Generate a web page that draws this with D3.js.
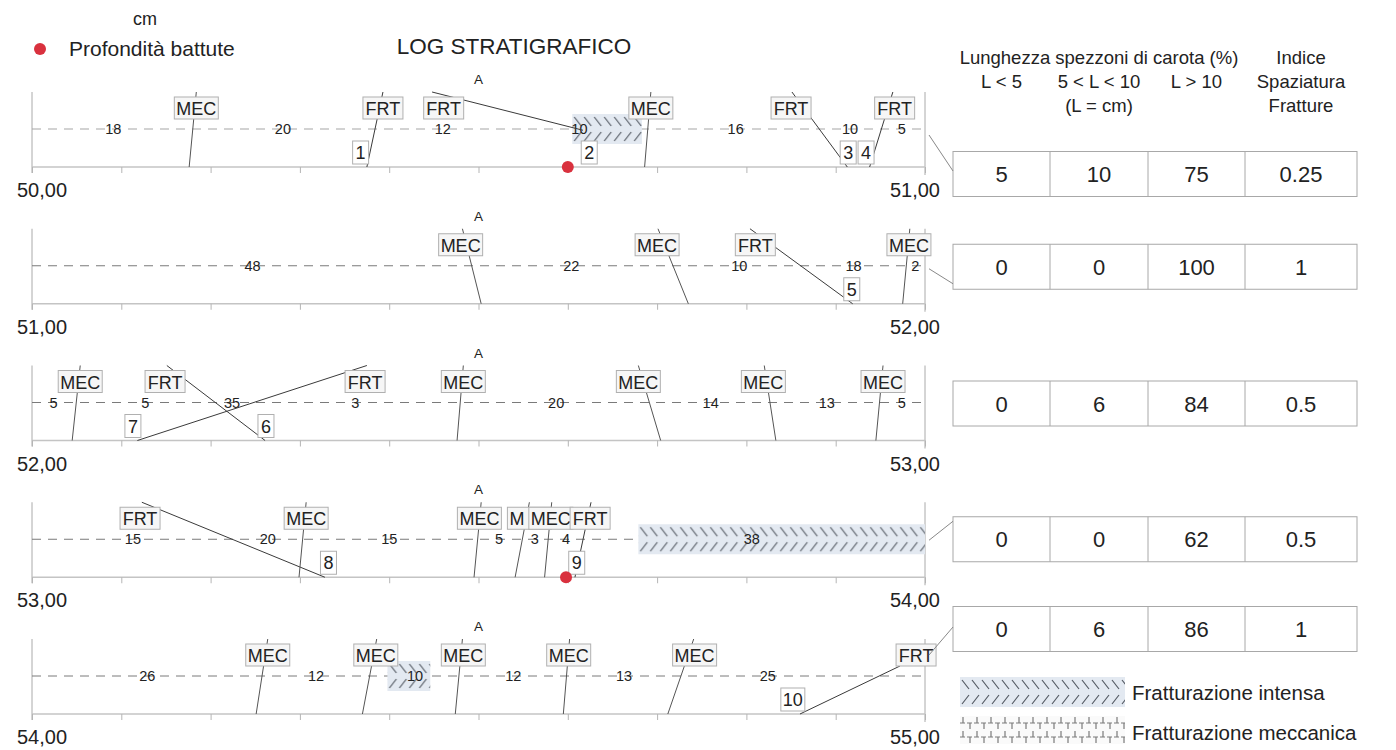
<!DOCTYPE html>
<html><head><meta charset="utf-8">
<script src="https://cdn.jsdelivr.net/npm/d3@7"></script>
<style>
body{margin:0;background:#fff}
svg{display:block}
text{font-family:"Liberation Sans",Arial,Helvetica,sans-serif;fill:#222}
</style></head><body>
<svg id="c" width="1396" height="750"></svg>
<script>
// ---------------- DATA ----------------
const rowStarts = [50, 51, 52, 53, 54];
const depthLabels = ["50,00", "51,00", "52,00", "53,00", "54,00", "55,00"];
const markerA = 50; // cm position of "A" marker within each metre

// segment lengths written on the centre line: [row, cm position, value]
const segments = [
  [0, 9.1, 18], [0, 28.1, 20], [0, 46.0, 12], [0, 61.3, 10], [0, 78.8, 16], [0, 91.6, 10], [0, 97.4, 5],
  [1, 24.7, 48], [1, 60.4, 22], [1, 79.2, 10], [1, 92.0, 18], [1, 98.9, 2],
  [2, 2.4, 5], [2, 12.7, 5], [2, 22.4, 35], [2, 36.2, 3], [2, 58.7, 20], [2, 76.0, 14], [2, 89.0, 13], [2, 97.4, 5],
  [3, 11.3, 15], [3, 26.4, 20], [3, 40.0, 15], [3, 52.3, 5], [3, 56.3, 3], [3, 59.8, 4], [3, 80.6, 38],
  [4, 12.9, 26], [4, 31.8, 12], [4, 42.9, 10], [4, 53.9, 12], [4, 66.3, 13], [4, 82.4, 25]
];

// discontinuities: row, type, label cm, line start cm (top), line end cm (bottom), optional fractions, fracture number
const discontinuities = [
  {row:0, type:"MEC", label:18.4, top:18.4, bot:17.6},
  {row:0, type:"FRT", label:39.3, top:39.3, bot:37.5, num:1, numAt:36.8},
  {row:0, type:"FRT", label:46.1, top:44.8, bot:61.7, f2:0.51, num:2, numAt:62.4},
  {row:0, type:"MEC", label:69.3, top:69.3, bot:68.6},
  {row:0, type:"FRT", label:85.0, top:85.1, bot:91.3, num:3, numAt:91.4},
  {row:0, type:"FRT", label:96.6, top:96.4, bot:93.8, num:4, numAt:93.4},
  {row:1, type:"MEC", label:48.0, top:48.2, bot:50.3},
  {row:1, type:"MEC", label:70.0, top:70.1, bot:73.5},
  {row:1, type:"FRT", label:81.0, top:80.4, bot:91.9, num:5, numAt:91.8},
  {row:1, type:"MEC", label:98.2, top:98.3, bot:97.5},
  {row:2, type:"MEC", label:5.4, top:5.4, bot:4.5},
  {row:2, type:"FRT", label:14.9, top:15.1, bot:26.1, num:6, numAt:26.2},
  {row:2, type:"FRT", label:37.3, top:37.5, bot:11.8, num:7, numAt:11.3},
  {row:2, type:"MEC", label:48.3, top:48.3, bot:47.6},
  {row:2, type:"MEC", label:67.9, top:67.9, bot:70.4},
  {row:2, type:"MEC", label:81.9, top:82.0, bot:83.3},
  {row:2, type:"MEC", label:95.3, top:95.3, bot:94.5},
  {row:3, type:"FRT", label:12.1, top:12.3, bot:32.8, num:8, numAt:33.2},
  {row:3, type:"MEC", label:30.7, top:30.7, bot:29.9},
  {row:3, type:"MEC", label:50.1, top:50.3, bot:49.5},
  {row:3, type:"MEC", label:55.7, top:55.7, bot:54.1},
  {row:3, type:"MEC", label:58.1, top:58.2, bot:57.4},
  {row:3, type:"FRT", label:62.5, top:62.6, bot:60.8, num:9, numAt:61.0},
  {row:4, type:"MEC", label:26.4, top:26.4, bot:25.1},
  {row:4, type:"MEC", label:38.5, top:38.6, bot:37.0},
  {row:4, type:"MEC", label:48.3, top:48.2, bot:47.4},
  {row:4, type:"MEC", label:60.1, top:60.2, bot:59.5},
  {row:4, type:"MEC", label:74.2, top:74.1, bot:71.2},
  {row:4, type:"FRT", label:99.0, top:97.2, f1:0.36, bot:86.0, num:10, numAt:85.2}
];

// intense fracturing zones: [row, from cm, to cm]
const intenseZones = [[0, 60.5, 68.3], [3, 67.9, 100], [4, 39.8, 44.6]];
// "Profondità battute" points: [row, cm]
const blows = [[0, 60.0], [3, 59.8]];

// table of core piece lengths
const colHeaders = ["L < 5", "5 < L < 10", "L > 10"];
const lessThan5 = [5, 0, 0, 0, 0];
const between5and10 = [10, 0, 6, 0, 6];
const greaterThan10 = [75, 100, 84, 62, 86];
const spacingIndex = ["0.25", "1", "0.5", "0.5", "1"];

// ---------------- LAYOUT ----------------
const svg = d3.select("#c");
const x = d3.scaleLinear().domain([0, 100]).range([32, 925]);
const rowY = d3.scaleLinear().domain([0, 4]).range([129, 676]); // centre (dashed) line
const TOP = -37, BASE = 38;

const defs = svg.append("defs");
// intense fracturing pattern (diamond-plate look)
const pI = defs.append("pattern").attr("id","intense").attr("patternUnits","userSpaceOnUse")
  .attr("width",10).attr("height",30);
pI.append("rect").attr("width",10).attr("height",30).attr("fill","#e3e9f1");
pI.append("path").attr("d","M2,3 L9,12 M2,27 L9,18").attr("stroke","#555b64").attr("stroke-width",1.2).attr("fill","none");
// mechanical fracturing pattern
const pM = defs.append("pattern").attr("id","mech").attr("patternUnits","userSpaceOnUse")
  .attr("width",14).attr("height",14);
pM.append("rect").attr("width",14).attr("height",14).attr("fill","#fafafa");
pM.append("path").attr("d","M0,7 H5 M7,7 H12 M3,1 V7 M10,7 V13").attr("stroke","#7a7a7a").attr("stroke-width",1.2).attr("fill","none");

// header texts
svg.append("text").attr("x",145).attr("y",25).attr("text-anchor","middle").style("font-size","18px").text("cm");
svg.append("circle").attr("cx",40).attr("cy",49).attr("r",6).attr("fill","#d9313e");
svg.append("text").attr("x",69).attr("y",56).style("font-size","21px").text("Profondità battute");
svg.append("text").attr("x",514).attr("y",54).attr("text-anchor","middle").style("font-size","22.5px").text("LOG STRATIGRAFICO");

// table headers
const colX = [953, 1050, 1148, 1245, 1357];
const colC = d3.range(4).map(i => (colX[i] + colX[i+1]) / 2);
const hs = "18.5px";
svg.append("text").attr("x", colC[1]).attr("y", 64).attr("text-anchor","middle").style("font-size",hs).text("Lunghezza spezzoni di carota (%)");
svg.append("text").attr("x", colC[3]).attr("y", 64).attr("text-anchor","middle").style("font-size",hs).text("Indice");
colHeaders.forEach((h, i) => svg.append("text").attr("x", colC[i]).attr("y", 88).attr("text-anchor","middle").style("font-size",hs).text(h));
svg.append("text").attr("x", colC[3]).attr("y", 88).attr("text-anchor","middle").style("font-size",hs).text("Spaziatura");
svg.append("text").attr("x", colC[1]).attr("y", 112).attr("text-anchor","middle").style("font-size",hs).text("(L = cm)");
svg.append("text").attr("x", colC[3]).attr("y", 112).attr("text-anchor","middle").style("font-size",hs).text("Fratture");

const tableOffset = [45, 1, 1, 0, -47];
const connStart = [6, 3, null, 1, -21];
const connEnd = [-3, 17, 0, -18, -2];

let clipId = 0;
rowStarts.forEach((start, r) => {
  const cy = rowY(r);
  const g = svg.append("g");
  const yTop = cy + TOP, yBase = cy + BASE;
  // frame verticals
  g.append("line").attr("x1",x(0)).attr("x2",x(0)).attr("y1",yTop).attr("y2",yBase+6).attr("stroke","#aaa");
  g.append("line").attr("x1",x(100)).attr("x2",x(100)).attr("y1",yTop).attr("y2",yBase+8).attr("stroke","#aaa");
  // baseline + ticks
  g.append("line").attr("x1",x(0)).attr("x2",x(100)).attr("y1",yBase).attr("y2",yBase).attr("stroke","#c4c4c4").attr("stroke-width",1.6);
  const axis = d3.axisBottom(x).tickValues(d3.range(0, 101, 10)).tickSize(6).tickFormat("");
  const ag = g.append("g").attr("transform",`translate(0,${yBase})`).call(axis);
  ag.select(".domain").remove();
  ag.selectAll(".tick line").attr("stroke","#b5b5b5");
  // dashed centre line
  g.append("line").attr("x1",x(0)).attr("x2",x(100)).attr("y1",cy).attr("y2",cy)
    .attr("stroke", r === 0 ? "#a5a5a5" : "#7a7a7a").attr("stroke-dasharray","9,7");
  // intense zones
  intenseZones.filter(z => z[0] === r).forEach(z => {
    const zg = g.append("g").attr("transform",`translate(${x(z[1])},${cy-15})`);
    zg.append("rect").attr("width", x(z[2]) - x(z[1])).attr("height",30).attr("fill","url(#intense)");
  });
  // segment values
  segments.filter(s => s[0] === r).forEach(s => {
    g.append("text").attr("x", x(s[1])).attr("y", cy + 5).attr("text-anchor","middle")
      .style("font-size","14.5px").text(s[2]);
  });
  // discontinuity lines
  const ds = discontinuities.filter(d => d.row === r);
  ds.forEach(d => {
    const f1 = d.f1 || 0, f2 = d.f2 === undefined ? 1 : d.f2;
    g.append("line").attr("x1", x(d.top)).attr("y1", yTop + f1*(yBase-yTop))
      .attr("x2", x(d.bot)).attr("y2", yTop + f2*(yBase-yTop))
      .attr("stroke", d.type === "FRT" ? "#3a3a3a" : "#555").attr("stroke-width",1);
  });
  // labels (later boxes cover earlier ones; a largely covered label keeps only its first letter)
  const bw = d => d.type === "MEC" ? 44 : 40;
  ds.forEach((d, i) => {
    const w = bw(d);
    g.append("rect").attr("x", x(d.label) - w/2).attr("y", cy - 32).attr("width", w).attr("height", 22)
      .attr("fill","#f6f6f6").attr("stroke","#b0b0b0").attr("stroke-width",1);
    const next = ds[i+1];
    const t = g.append("text").attr("x", x(d.label)).attr("y", cy - 14).attr("text-anchor","middle")
      .style("font-size","18px").text(d.type);
    if (next && x(next.label) - bw(next)/2 < x(d.label) + w/2 - 10) {
      const id = "clip" + (clipId++);
      defs.append("clipPath").attr("id", id).append("rect")
        .attr("x", x(d.label) - w/2).attr("y", cy - 34).attr("width", x(next.label) - bw(next)/2 - (x(d.label) - w/2)).attr("height", 26);
      t.attr("clip-path", `url(#${id})`).text("M");
      t.attr("text-anchor","start").attr("x", x(d.label) - w/2 + 2);
    }
  });
  // fracture numbers
  ds.filter(d => d.num !== undefined).forEach(d => {
    const w = d.num >= 10 ? 24 : 16;
    g.append("rect").attr("x", x(d.numAt) - w/2).attr("y", cy + 12).attr("width", w).attr("height", 23)
      .attr("fill","#fff").attr("stroke","#b0b0b0");
    g.append("text").attr("x", x(d.numAt)).attr("y", cy + 30).attr("text-anchor","middle")
      .style("font-size","18px").text(d.num);
  });
  // blows
  blows.filter(b => b[0] === r).forEach(b => {
    g.append("circle").attr("cx", x(b[1])).attr("cy", yBase).attr("r", 6).attr("fill","#d9313e");
  });
  // A marker
  g.append("text").attr("x", x(markerA)).attr("y", cy - 45).attr("text-anchor","middle").style("font-size","13.5px").text("A");
  // depth labels
  g.append("text").attr("x", 17).attr("y", cy + 68).style("font-size","20px").text(depthLabels[r]);
  g.append("text").attr("x", 940).attr("y", cy + 68).attr("text-anchor","end").style("font-size","20px").text(depthLabels[r+1]);

  // table row
  const tc = cy + tableOffset[r];
  const tg = svg.append("g");
  tg.append("rect").attr("x", colX[0]).attr("y", tc - 22.5).attr("width", colX[4]-colX[0]).attr("height",45)
    .attr("fill","none").attr("stroke","#a8a8a8");
  [1,2,3].forEach(i => tg.append("line").attr("x1", colX[i]).attr("x2", colX[i]).attr("y1", tc-22.5).attr("y2", tc+22.5).attr("stroke","#a8a8a8"));
  [lessThan5[r], between5and10[r], greaterThan10[r], spacingIndex[r]].forEach((v, i) => {
    tg.append("text").attr("x", colC[i]).attr("y", tc + 8).attr("text-anchor","middle").style("font-size","22px").text(v);
  });
  // connector
  if (connStart[r] !== null) {
    svg.append("line").attr("x1", x(100) + 4).attr("y1", cy + connStart[r]).attr("x2", colX[0]).attr("y2", tc + connEnd[r])
      .attr("stroke","#888");
  }
});

// legend
const lg = svg.append("g").attr("transform","translate(960,677)");
lg.append("rect").attr("width",165).attr("height",30).attr("fill","url(#intense)");
svg.append("text").attr("x",1132).attr("y",700).style("font-size","20.5px").text("Fratturazione intensa");
const lg2 = svg.append("g").attr("transform","translate(960,716)");
lg2.append("rect").attr("width",165).attr("height",28).attr("fill","url(#mech)");
svg.append("text").attr("x",1132).attr("y",740).style("font-size","20.5px").text("Fratturazione meccanica");
</script>
</body></html>
